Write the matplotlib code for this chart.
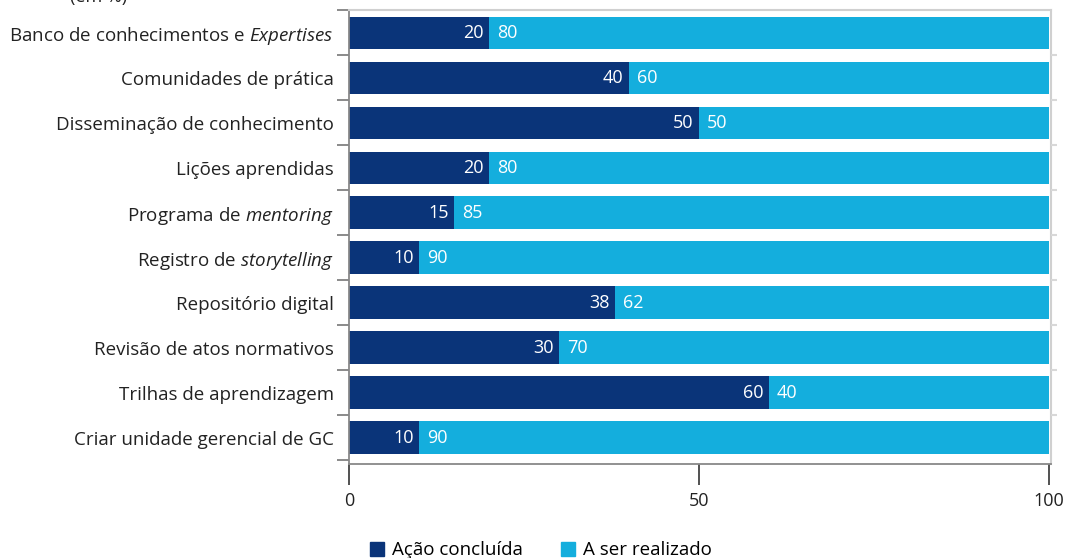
import matplotlib
matplotlib.use("Agg")
import matplotlib.pyplot as plt
from matplotlib.lines import Line2D
import numpy as np

plt.rcParams["font.family"] = ["Open Sans", "DejaVu Sans"]
plt.rcParams["mathtext.fontset"] = "custom"
plt.rcParams["mathtext.rm"] = "Open Sans"
plt.rcParams["mathtext.it"] = "Open Sans:italic"

categories = [
    r"Banco de conhecimentos e $\mathit{Expertises}$",
    "Comunidades de prática",
    "Disseminação de conhecimento",
    "Lições aprendidas",
    r"Programa de $\mathit{mentoring}$",
    r"Registro de $\mathit{storytelling}$",
    "Repositório digital",
    "Revisão de atos normativos",
    "Trilhas de aprendizagem",
    "Criar unidade gerencial de GC",
]
concluida = [20, 40, 50, 20, 15, 10, 38, 30, 60, 10]
a_realizar = [80, 60, 50, 80, 85, 90, 62, 70, 40, 90]
series_names = ["Ação concluída", "A ser realizado"]
xticks = [0, 50, 100]

dark = "#0a3479"
light = "#14aedd"

fig = plt.figure(figsize=(10.68, 5.58), dpi=100)
ax = fig.add_axes([0.3268, 0.1686, 0.6573, 0.8126])

y = np.arange(len(categories))
h = 0.73
ax.barh(y, concluida, height=h, color=dark, zorder=2)
ax.barh(y, a_realizar, left=concluida, height=h, color=light, zorder=2)

for yi, c, r in zip(y, concluida, a_realizar):
    ax.text(c - 0.8, yi, str(c), color="white", ha="right", va="center", fontsize=13)
    ax.text(c + 1.1, yi, str(r), color="white", ha="left", va="center", fontsize=13)

ax.set_xlim(0, 100.3)
ax.set_ylim(9.58, -0.5)

ax.set_yticks(y)
ax.set_yticklabels(categories, fontsize=13.5, color="#222222")
ax.tick_params(axis="y", which="major", length=0, pad=11)
ax.set_yticks(np.arange(-0.5, len(categories), 1.0), minor=True)
ax.tick_params(axis="y", which="minor", length=9, color="#777777", width=1.2)

ax.set_xticks(xticks)
ax.set_xticklabels([str(t) for t in xticks], fontsize=13, color="#222222")
ax.tick_params(axis="x", length=15, width=1.2, color="#333333", pad=5)

for s in ["top", "right"]:
    ax.spines[s].set_color("#d0d0d0")
    ax.spines[s].set_linewidth(1.5)
ax.spines["left"].set_color("#888888")
ax.spines["left"].set_linewidth(1.3)
ax.spines["bottom"].set_color("#888888")
ax.spines["bottom"].set_linewidth(1.3)

# short light stubs on the right side
ax2 = ax.twinx()
ax2.set_ylim(ax.get_ylim())
ax2.set_yticks(np.arange(0.5, len(categories) - 1, 1.0))
ax2.set_yticklabels([])
ax2.tick_params(axis="y", length=4, color="#d8d8d8", width=1.5)
for s in ax2.spines.values():
    s.set_visible(False)

fig.text(0.066, 1 - 2 / 558, "(em %)", fontsize=13, color="#222222",
         va="baseline", ha="left")

handles = [
    Line2D([], [], marker="s", linestyle="none", markersize=10, color=dark),
    Line2D([], [], marker="s", linestyle="none", markersize=10, color=light),
]
fig.legend(handles, series_names, loc="center", bbox_to_anchor=(0.505, 0.014),
           ncol=2, frameon=False, fontsize=13.5, handletextpad=0.3,
           columnspacing=1.9, handlelength=1.0)

fig.savefig("out.png", dpi=100)
